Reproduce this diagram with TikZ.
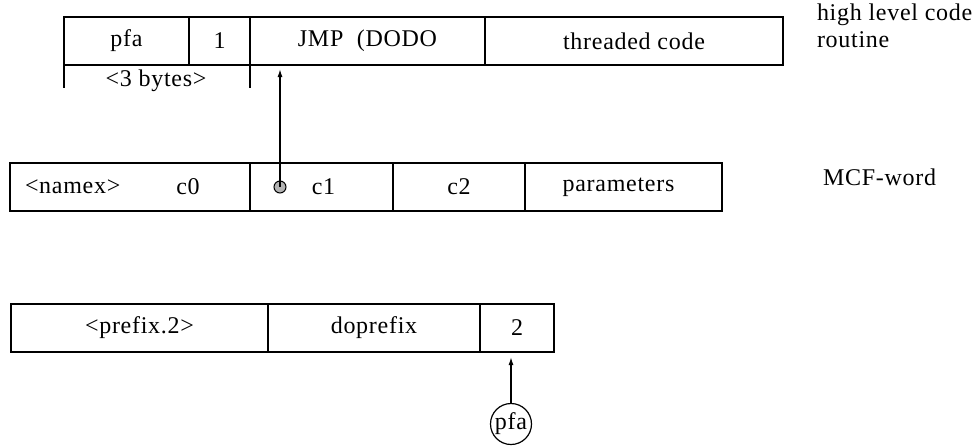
\documentclass[tikz,border=0pt]{standalone}
\usepackage{fontspec}
\setmainfont{Liberation Serif}[LetterSpace=3]
\usetikzlibrary{positioning, arrows.meta}
\begin{document}
\begin{tikzpicture}[x=1pt, y=-1pt, node distance=0pt, font=\fontsize{24}{27}\selectfont]

    % Define styles
    \tikzset{
        cell/.style = {rectangle, minimum height=48pt, inner sep=0pt, outer sep=0pt, text centered, draw=black, line width=1.4pt},
        note/.style = {inner sep=0pt, outer sep=0pt},
        marker/.style = {circle, minimum size=12pt, inner sep=0pt, draw=black, fill=gray!60, line width=1pt},
        ptr/.style = {circle, minimum size=41pt, inner sep=0pt, draw=black, line width=1.2pt},
        tick/.style = {line width=1.4pt},
        arrow/.style = {line width=1.4pt, -{Latex[length=8pt, width=5pt]}}
    }
    \useasboundingbox (0,0) rectangle (978,445);

    % Nodes
    \node (pfa) [cell, minimum width=125pt, anchor=north west] at (64,17) {pfa};
    \node (one) [cell, minimum width=61pt, right=of pfa] {1};
    \node (jmp) [cell, minimum width=235pt, right=of one] {JMP\ \ (DODO};
    \node (thr) [cell, minimum width=298pt, right=of jmp] {threaded code};
    \node (hlc) [note, anchor=west, align=left] at (817,26) {high level code\\routine};
    \node (bytes) [note] at (156,81) {<3 bytes>};

    \node (c0) [cell, minimum width=240pt, anchor=north west] at (10,163) {};
    \node (c1) [cell, minimum width=143pt, right=of c0] {\hspace*{4pt}c1};
    \node (c2) [cell, minimum width=132pt, right=of c1] {c2};
    \node (par) [cell, minimum width=197pt, right=of c2] {parameters\hspace*{10pt}};
    \node (namex) [note, anchor=west] at (25,187) {<namex>};
    \node (czero) [note] at (188,187) {c0};
    \node (dot) [marker] at (280,187) {};
    \node (mcf) [note, anchor=west] at (823,177) {MCF-word};

    \node (prefix) [cell, minimum width=257pt, anchor=north west] at (11,304) {<prefix.2>};
    \node (dopre) [cell, minimum width=212pt, right=of prefix] {doprefix};
    \node (two) [cell, minimum width=74pt, right=of dopre] {2};
    \node (pfaptr) [ptr] at (511,424) {pfa};

    % Arrows
    \draw [tick] (pfa.south west) -- ++(0,23);
    \draw [tick] (one.south east) -- ++(0,23);
    \draw [arrow] (dot.center) -- ([yshift=-4pt]dot |- jmp.south);
    \draw [arrow] (pfaptr) -- ([yshift=-5pt]pfaptr |- two.south);
\end{tikzpicture}
\end{document}
